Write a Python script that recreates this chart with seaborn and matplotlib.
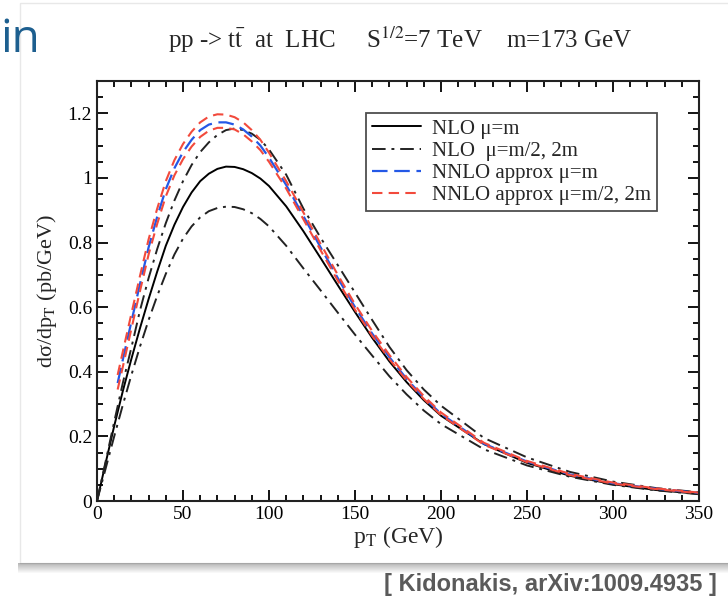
import matplotlib
matplotlib.use("Agg")
import matplotlib.pyplot as plt
from matplotlib.patches import Rectangle
from matplotlib.ticker import MultipleLocator, FuncFormatter
import seaborn as sns

sns.set_style("ticks", {"xtick.direction": "in", "ytick.direction": "in"})
plt.rcParams["font.family"] = ["Liberation Serif", "DejaVu Serif"]
plt.rcParams["mathtext.fontset"] = "stix"

# pT grid (GeV) for the NLO curves, and for the NNLO approx curves (start at ~12 GeV)
pt_nlo = [0, 5, 10, 15, 20, 25, 30, 35, 40, 45, 50, 55, 60, 65, 70, 75, 80, 85, 90, 95,
          100, 110, 120, 130, 140, 150, 160, 170, 180, 190, 200, 225, 250, 275, 300, 325, 350]
pt_nnlo = [12, 15, 20, 25, 30, 35, 40, 45, 50, 55, 60, 65, 70, 75, 80, 85, 90, 95,
           100, 110, 120, 130, 140, 150, 160, 170, 180, 190, 200, 225, 250, 275, 300, 325, 350]

nlo_m = [0.0, 0.117, 0.232, 0.34, 0.44, 0.535, 0.625, 0.71, 0.79, 0.855, 0.91, 0.955,
         0.99, 1.013, 1.028, 1.035, 1.034, 1.027, 1.015, 0.998, 0.975, 0.912, 0.835,
         0.752, 0.668, 0.585, 0.505, 0.432, 0.368, 0.312, 0.264, 0.176, 0.118, 0.078,
         0.052, 0.034, 0.022]
nlo_half = [0.0, 0.122, 0.245, 0.365, 0.475, 0.59, 0.69, 0.78, 0.86, 0.93, 0.99, 1.04,
            1.08, 1.11, 1.133, 1.148, 1.153, 1.148, 1.137, 1.118, 1.088, 1.01, 0.905,
            0.815, 0.73, 0.645, 0.56, 0.477, 0.405, 0.345, 0.295, 0.195, 0.135, 0.09,
            0.06, 0.04, 0.027]
nlo_two = [0.0, 0.1, 0.2, 0.297, 0.39, 0.478, 0.56, 0.635, 0.703, 0.763, 0.812, 0.85,
           0.878, 0.897, 0.907, 0.911, 0.91, 0.903, 0.891, 0.873, 0.85, 0.79, 0.72,
           0.652, 0.583, 0.515, 0.45, 0.386, 0.33, 0.28, 0.238, 0.16, 0.11, 0.075, 0.05,
           0.033, 0.021]
nnlo_m = [0.365, 0.437, 0.555, 0.672, 0.785, 0.88, 0.965, 1.03, 1.08, 1.118, 1.148, 1.165,
          1.172, 1.172, 1.165, 1.15, 1.128, 1.1, 1.063, 0.978, 0.882, 0.785, 0.69, 0.6,
          0.518, 0.445, 0.378, 0.32, 0.27, 0.177, 0.122, 0.082, 0.055, 0.038, 0.025]
nnlo_hi = [0.39, 0.462, 0.58, 0.697, 0.81, 0.905, 0.99, 1.055, 1.105, 1.143, 1.172, 1.19,
           1.197, 1.196, 1.188, 1.172, 1.148, 1.118, 1.078, 0.99, 0.893, 0.796, 0.7,
           0.609, 0.526, 0.452, 0.384, 0.325, 0.274, 0.18, 0.124, 0.084, 0.057, 0.039,
           0.026]
nnlo_lo = [0.345, 0.415, 0.533, 0.65, 0.763, 0.858, 0.943, 1.008, 1.058, 1.097, 1.127,
           1.146, 1.155, 1.155, 1.15, 1.135, 1.113, 1.086, 1.05, 0.967, 0.872, 0.776,
           0.682, 0.592, 0.511, 0.439, 0.373, 0.316, 0.266, 0.174, 0.12, 0.08, 0.054,
           0.037, 0.024]

labels = ["NLO \u03bc=m", "NLO  \u03bc=m/2, 2m", "NNLO approx \u03bc=m",
          "NNLO approx \u03bc=m/2, 2m"]

blue = "#2458e6"
red = "#f24a3c"

fig = plt.figure(figsize=(7.28, 5.98), dpi=100)
ax = fig.add_axes([97 / 728, 1 - 501 / 598, 602 / 728, 420 / 598])

dashdot = (0, (7, 3, 1.5, 3))
sns.lineplot(x=pt_nlo, y=nlo_m, ax=ax, color="black", lw=1.4, label=labels[0])
sns.lineplot(x=pt_nlo, y=nlo_two, ax=ax, color="#222222", lw=1.4, linestyle=dashdot,
             label=labels[1])
sns.lineplot(x=pt_nlo, y=nlo_half, ax=ax, color="#222222", lw=1.4, linestyle=dashdot)
sns.lineplot(x=pt_nnlo, y=nnlo_m, ax=ax, color=blue, lw=1.6, linestyle=(0, (7, 3)),
             label=labels[2])
sns.lineplot(x=pt_nnlo, y=nnlo_hi, ax=ax, color=red, lw=1.5, linestyle=(0, (5, 3)),
             label=labels[3])
sns.lineplot(x=pt_nnlo, y=nnlo_lo, ax=ax, color=red, lw=1.5, linestyle=(0, (5, 3)))

ax.set_xlim(0, 350)
ax.set_ylim(0, 1.3)
ax.xaxis.set_major_locator(MultipleLocator(50))
ax.xaxis.set_minor_locator(MultipleLocator(10))
ax.yaxis.set_major_locator(MultipleLocator(0.2))
ax.yaxis.set_minor_locator(MultipleLocator(0.05))
ax.yaxis.set_major_formatter(FuncFormatter(lambda v, p: f"{v:g}"))
ax.tick_params(which="both", direction="in", top=True, right=True, labelsize=14,
               width=1.3, colors="black")
ax.tick_params(which="major", length=8)
ax.tick_params(which="minor", length=4)
for s in ax.spines.values():
    s.set_linewidth(1.5)
    s.set_color("#222222")

ax.set_xlabel("p$_\\mathrm{T}$ (GeV)", fontsize=17, labelpad=1)
ax.set_ylabel("d\u03c3/dp$_\\mathrm{T}$ (pb/GeV)", fontsize=16, labelpad=6)

leg = ax.legend(loc="upper right", bbox_to_anchor=(0.93, 0.924), fontsize=15,
                frameon=True, fancybox=False, handlelength=2.35, handletextpad=0.5,
                labelspacing=0.12, borderpad=0.3, borderaxespad=0)
leg.get_frame().set_edgecolor("#222222")
leg.get_frame().set_linewidth(1.3)

fig.text(400 / 728, 1 - 40 / 598,
         "pp -> t$\\bar{\\mathrm{t}}$  at  LHC     S$^{1/2}$=7 TeV    m=173 GeV",
         ha="center", va="center", fontsize=18)

# slide decorations
fig.text(0.001, 1 - 52 / 598, "in", color="#1d5f8f", fontsize=33,
         family=["Open Sans", "DejaVu Sans"], ha="left", va="baseline")
fig.patches.append(Rectangle((20 / 728, 1 - 563 / 598), 1, 560 / 598,
                             transform=fig.transFigure, fill=False,
                             edgecolor="#e8e8e8", lw=1, zorder=-1))
for i in range(10):
    fig.patches.append(Rectangle((18 / 728, 1 - (564 + i) / 598), 1, 1 / 598,
                                 transform=fig.transFigure, color="black",
                                 alpha=0.28 * (1 - i / 10), lw=0, zorder=-1))
fig.text(717 / 728, 1 - 591 / 598, "[ Kidonakis, arXiv:1009.4935 ]", color="#5a5a5a",
         fontsize=17, fontweight="bold", family=["Liberation Sans", "DejaVu Sans"],
         ha="right", va="baseline")

fig.savefig("out.png", dpi=100)
